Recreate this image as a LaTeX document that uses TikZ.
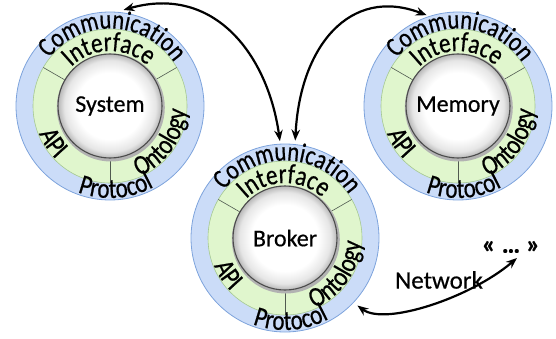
\documentclass[tikz,border=0pt]{standalone}
\usepackage{fontspec}
\setmainfont{Carlito}[FakeBold=0.5]
\newfontfamily\ringfam[FakeStretch=0.82,FakeBold=0.6]{Carlito}
\usetikzlibrary{decorations.text,arrows.meta,calc}
\definecolor{ringblue}{RGB}{203,220,248}
\definecolor{ringblueline}{RGB}{125,163,220}
\definecolor{ringgreen}{RGB}{224,246,205}
\definecolor{ringgreenline}{RGB}{165,200,145}
\definecolor{dividerc}{RGB}{80,90,80}
\pgfdeclareradialshading{ballshade}{\pgfpoint{0bp}{0bp}}{color(0bp)=(white); color(16bp)=(white); color(22bp)=(black!10); color(25bp)=(black!28); color(50bp)=(black!28)}
\newcommand\ringfnt{\ringfam\fontsize{28}{32}\selectfont}
\newcommand\commfnt{\ringfam\fontsize{27.5}{32}\selectfont}
\newcommand\agentring[3]{%
  \coordinate (#1c) at #2;
  \fill[ringblue, draw=ringblueline, line width=0.8pt] (#1c) circle[radius=94];
  \fill[ringgreen, draw=ringgreenline, line width=0.6pt] (#1c) circle[radius=77];
  \foreach \ang in {30,150,270} \draw[dividerc, line width=0.6pt] ($(#1c)+(\ang:50)$) -- ($(#1c)+(\ang:77)$);
  \fill[black!30] ($(#1c)+(0.8,-1.5)$) circle[radius=54];
  \shade[shading=ballshade, draw=black!70, line width=1.1pt] (#1c) circle[radius=52];
  \node[centerlabel] (#1) at (#1c) {#3};
  \path[decorate, decoration={text along path, text align=center, text={|\commfnt|Communication}}]
    ($(#1c)+(158:77.5)$) arc[start angle=158, end angle=18, radius=77.5];
  \path[decorate, decoration={text along path, text align=center, text={|\ringfnt|Interface}}]
    ($(#1c)+(160:55)$) arc[start angle=160, end angle=22, radius=55];
  \path[decorate, decoration={text along path, text align=center, text={|\ringfnt|API}}]
    ($(#1c)+(173:76)$) arc[start angle=173, end angle=253, radius=76];
  \path[decorate, decoration={text along path, text align=center, text={|\ringfnt|Ontology}}]
    ($(#1c)+(-90:76)$) arc[start angle=-90, end angle=20, radius=76];
  \path[decorate, decoration={text along path, text align=center, text={|\ringfnt|Protocol}}]
    ($(#1c)+(224:92)$) arc[start angle=224, end angle=324, radius=92];
}
\begin{document}
\begin{tikzpicture}[x=1pt,y=1pt,
  centerlabel/.style={font=\fontsize{24}{28}\selectfont, inner sep=0pt},
  conn/.style={line width=2.2pt, {Stealth[length=11pt,width=8.5pt]}-{Stealth[length=11pt,width=8.5pt]}},
  plainlabel/.style={font=\fontsize{25}{29}\selectfont, inner sep=0pt}]
\useasboundingbox (0,0) rectangle (556,338);
\agentring{sys}{(110,232)}{System}
\agentring{mem}{(458,232)}{Memory}
\agentring{brk}{(285,100)}{Broker}
\node[plainlabel] (net) at (439,58) {Network};
\node[font=\bfseries\fontsize{26}{30}\selectfont, inner sep=0pt] (dots) at (511,91) {« … »};
\coordinate (sysTip) at ($(sysc)+(82:97)$);
\coordinate (brkTipL) at ($(brkc)+(93:97)$);
\coordinate (brkTipR) at ($(brkc)+(84:98)$);
\coordinate (memTip) at ($(memc)+(109:96)$);
\coordinate (brkTipLow) at ($(brkc)+(-43:99)$);
\coordinate (dotsTip) at (517,80);
\draw[conn] (sysTip) .. controls (215,354) and (268,282) .. (brkTipL);
\draw[conn] (brkTipR) .. controls (300,292) and (350,352) .. (memTip);
\draw[conn] (brkTipLow) .. controls (385,12) and (470,40) .. (dotsTip);
\end{tikzpicture}
\end{document}
